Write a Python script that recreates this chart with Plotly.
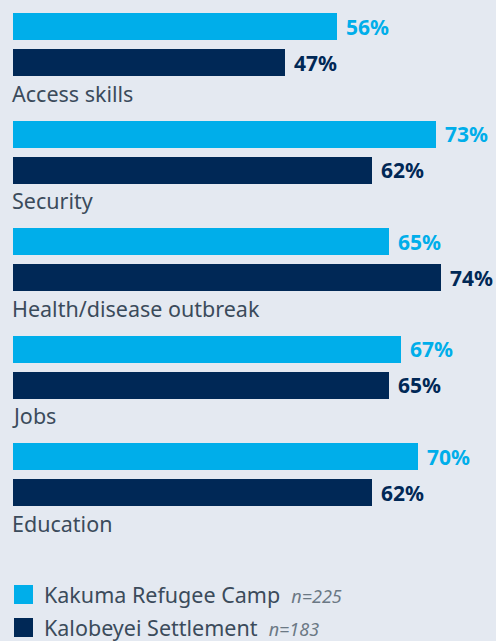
import plotly.graph_objects as go

categories = ["Access skills", "Security", "Health/disease outbreak", "Jobs", "Education"]
kakuma = [56, 73, 65, 67, 70]
kalobeyei = [47, 62, 74, 65, 62]
series_names = ["Kakuma Refugee Camp", "Kalobeyei Settlement"]
sample_sizes = ["n=225", "n=183"]

W, H = 496, 641
BG = "#e4e9f1"
LIGHT = "#00aeea"
DARK = "#002856"
TEXT = "#3b4b5b"
FONT = "Noto Sans, Open Sans, sans-serif"

px_per_pct = 5.79
left_px = 13
pitch = 107.5
first_center = 26.5
gap = 36
bar_h = 27

y_light = [first_center + i * pitch for i in range(len(categories))]
y_dark = [y + gap for y in y_light]
y_label = [y + 66.5 for y in y_light]

fig = go.Figure()
fig.add_trace(go.Bar(x=kakuma, y=y_light, orientation="h", width=bar_h,
                     marker=dict(color=LIGHT, line=dict(width=0)), showlegend=False,
                     hoverinfo="skip"))
fig.add_trace(go.Bar(x=kalobeyei, y=y_dark, orientation="h", width=bar_h,
                     marker=dict(color=DARK, line=dict(width=0)), showlegend=False,
                     hoverinfo="skip"))

annotations = []
for vals, ys, col in [(kakuma, y_light, LIGHT), (kalobeyei, y_dark, DARK)]:
    for v, y in zip(vals, ys):
        annotations.append(dict(x=v, y=y, xref="x", yref="y", text=f"<b>{v}%</b>",
                                showarrow=False, xanchor="left", yanchor="middle",
                                xshift=7, font=dict(family=FONT, size=21, color=col)))
for c, y in zip(categories, y_label):
    annotations.append(dict(x=0, y=y, xref="x", yref="y", text=c, showarrow=False,
                            xanchor="left", yanchor="middle", xshift=-3,
                            font=dict(family=FONT, size=21.5, color=TEXT)))

# legend drawn as swatches with text
shapes = []
legend_y = [594.5, 627.5]
for name, n, col, y in zip(series_names, sample_sizes, [LIGHT, DARK], legend_y):
    shapes.append(dict(type="rect", xref="paper", yref="y", x0=14 / W, x1=33 / W,
                       y0=y - 9.5, y1=y + 9.5, fillcolor=col, line=dict(width=0)))
    annotations.append(dict(x=42 / W, y=y, xref="paper", yref="y",
                            text=f"{name}  <i><span style='font-size:18px;color:#6b7884'>{n}</span></i>",
                            showarrow=False, xanchor="left", yanchor="middle",
                            font=dict(family=FONT, size=21.5, color=TEXT)))

fig.update_layout(
    width=W, height=H,
    margin=dict(l=0, r=0, t=0, b=0),
    paper_bgcolor=BG, plot_bgcolor=BG,
    bargap=0,
    xaxis=dict(range=[-left_px / px_per_pct, (W - left_px) / px_per_pct], visible=False,
               fixedrange=True),
    yaxis=dict(range=[H, 0], visible=False, fixedrange=True),
    annotations=annotations, shapes=shapes,
    font=dict(family=FONT),
)

fig.write_html("out.html")
